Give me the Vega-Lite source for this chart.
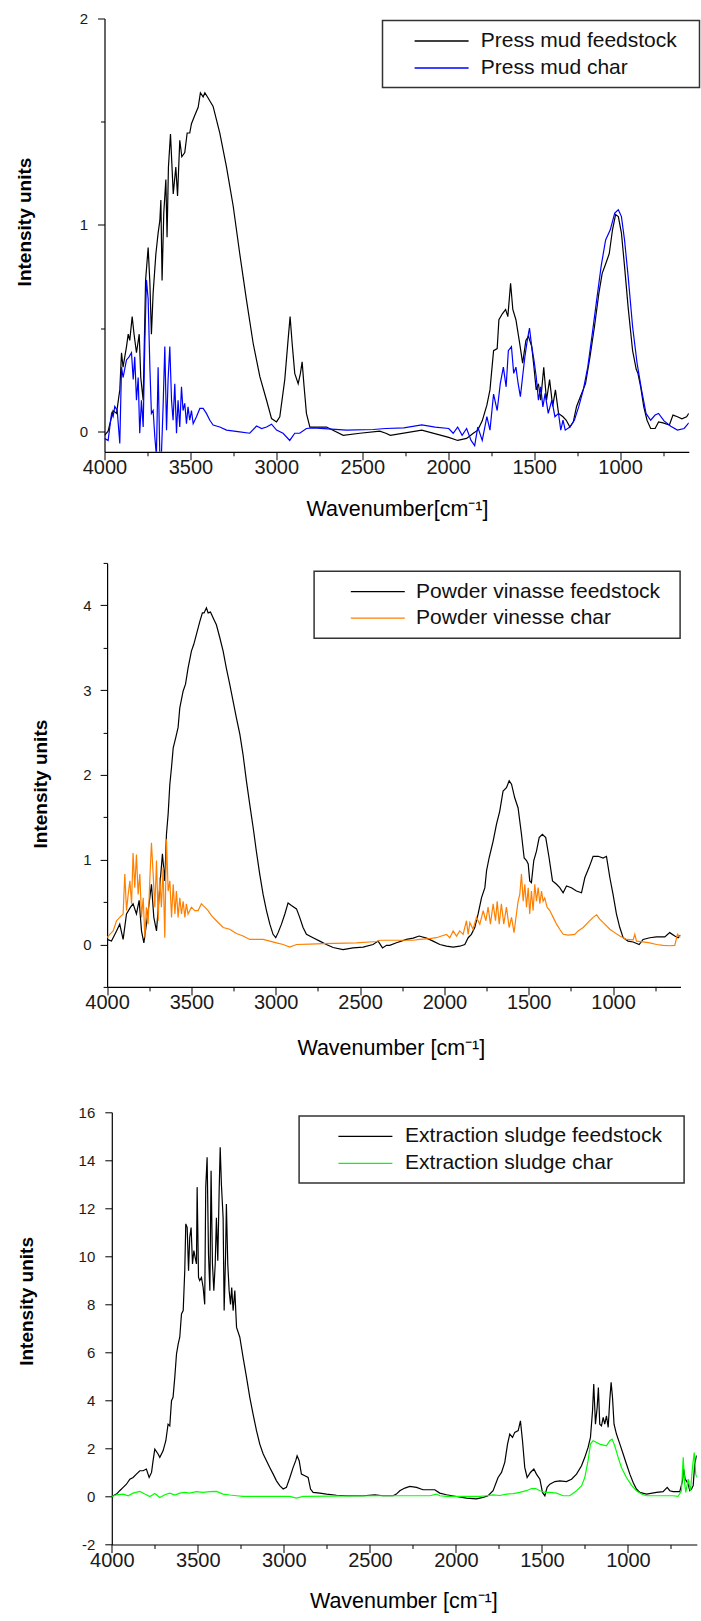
{
"$schema": "https://vega.github.io/schema/vega-lite/v6.json",
"background": "white",
"padding": {"left": 15.5, "top": 11.5, "right": 0, "bottom": 0},
"autosize": {"type": "pad"},
"columns": 1,
"spacing": 110.4,
"bounds": "flush",
"align": "none",
"resolve": {"scale": {"color": "independent", "x": "independent", "y": "independent"}, "legend": {"color": "independent"}},
"config": {
  "view": {"stroke": null},
  "font": "Liberation Sans",
  "axis": {"grid": false, "domainColor": "#000000", "domainWidth": 1.2, "tickColor": "#000000", "tickWidth": 1, "labelColor": "#1a1a1a", "titleColor": "#000000", "labelFont": "Liberation Sans", "titleFont": "Liberation Sans", "labelOverlap": false, "labelFlush": false},
  "legend": {"strokeWidth": 1.5}
},
"datasets": {
"pmf": [{"w":4000,"v":-0.02},{"w":3979,"v":0.0},{"w":3950,"v":0.1},{"w":3930,"v":0.086},{"w":3911,"v":0.2},{"w":3901,"v":0.38},{"w":3892,"v":0.31},{"w":3872,"v":0.41},{"w":3862,"v":0.47},{"w":3853,"v":0.44},{"w":3839,"v":0.555},{"w":3828,"v":0.47},{"w":3814,"v":0.38},{"w":3798,"v":0.47},{"w":3789,"v":0.26},{"w":3775,"v":0.15},{"w":3761,"v":0.73},{"w":3746,"v":0.89},{"w":3736,"v":0.72},{"w":3727,"v":0.47},{"w":3717,"v":0.67},{"w":3701,"v":0.86},{"w":3688,"v":0.96},{"w":3678,"v":1.02},{"w":3672,"v":1.12},{"w":3665,"v":0.73},{"w":3655,"v":1.06},{"w":3643,"v":1.22},{"w":3636,"v":0.94},{"w":3628,"v":1.28},{"w":3616,"v":1.44},{"w":3600,"v":1.15},{"w":3585,"v":1.28},{"w":3575,"v":1.14},{"w":3562,"v":1.41},{"w":3550,"v":1.33},{"w":3533,"v":1.35},{"w":3519,"v":1.445},{"w":3504,"v":1.445},{"w":3494,"v":1.49},{"w":3475,"v":1.53},{"w":3455,"v":1.57},{"w":3442,"v":1.64},{"w":3426,"v":1.62},{"w":3416,"v":1.64},{"w":3397,"v":1.615},{"w":3368,"v":1.574},{"w":3329,"v":1.445},{"w":3290,"v":1.28},{"w":3251,"v":1.09},{"w":3213,"v":0.86},{"w":3174,"v":0.636},{"w":3135,"v":0.426},{"w":3096,"v":0.264},{"w":3057,"v":0.15},{"w":3028,"v":0.061},{"w":2999,"v":0.045},{"w":2980,"v":0.07},{"w":2951,"v":0.25},{"w":2932,"v":0.44},{"w":2920,"v":0.555},{"w":2908,"v":0.425},{"w":2893,"v":0.28},{"w":2873,"v":0.23},{"w":2860,"v":0.28},{"w":2850,"v":0.336},{"w":2840,"v":0.23},{"w":2825,"v":0.086},{"w":2805,"v":0.02},{"w":2708,"v":0.02},{"w":2611,"v":-0.02},{"w":2514,"v":-0.01},{"w":2398,"v":0.0},{"w":2363,"v":-0.01},{"w":2337,"v":-0.02},{"w":2154,"v":0.005},{"w":1997,"v":-0.03},{"w":1945,"v":-0.045},{"w":1893,"v":-0.035},{"w":1854,"v":-0.01},{"w":1828,"v":0.005},{"w":1802,"v":0.05},{"w":1775,"v":0.126},{"w":1757,"v":0.2},{"w":1736,"v":0.39},{"w":1715,"v":0.4},{"w":1705,"v":0.54},{"w":1684,"v":0.57},{"w":1666,"v":0.59},{"w":1653,"v":0.555},{"w":1637,"v":0.717},{"w":1624,"v":0.59},{"w":1606,"v":0.54},{"w":1585,"v":0.43},{"w":1567,"v":0.33},{"w":1548,"v":0.44},{"w":1533,"v":0.46},{"w":1514,"v":0.41},{"w":1501,"v":0.31},{"w":1488,"v":0.2},{"w":1475,"v":0.23},{"w":1462,"v":0.15},{"w":1444,"v":0.31},{"w":1428,"v":0.15},{"w":1410,"v":0.25},{"w":1392,"v":0.12},{"w":1376,"v":0.2},{"w":1358,"v":0.086},{"w":1332,"v":0.07},{"w":1313,"v":0.053},{"w":1292,"v":0.02},{"w":1272,"v":0.045},{"w":1253,"v":0.12},{"w":1227,"v":0.175},{"w":1201,"v":0.23},{"w":1175,"v":0.36},{"w":1149,"v":0.506},{"w":1123,"v":0.67},{"w":1104,"v":0.765},{"w":1084,"v":0.81},{"w":1063,"v":0.86},{"w":1044,"v":0.976},{"w":1026,"v":1.05},{"w":1010,"v":1.04},{"w":992,"v":0.96},{"w":974,"v":0.8},{"w":953,"v":0.6},{"w":927,"v":0.39},{"w":906,"v":0.3},{"w":896,"v":0.28},{"w":880,"v":0.215},{"w":862,"v":0.118},{"w":843,"v":0.053},{"w":822,"v":0.013},{"w":796,"v":0.013},{"w":776,"v":0.045},{"w":750,"v":0.04},{"w":713,"v":0.03},{"w":692,"v":0.078},{"w":666,"v":0.07},{"w":640,"v":0.06},{"w":613,"v":0.07},{"w":600,"v":0.086}],
"pmc": [{"w":4000,"v":-0.035},{"w":3979,"v":-0.045},{"w":3959,"v":0.086},{"w":3950,"v":0.07},{"w":3940,"v":0.12},{"w":3926,"v":0.1},{"w":3911,"v":-0.06},{"w":3901,"v":0.31},{"w":3892,"v":0.26},{"w":3872,"v":0.345},{"w":3857,"v":0.36},{"w":3843,"v":0.38},{"w":3833,"v":0.25},{"w":3824,"v":0.36},{"w":3814,"v":0.15},{"w":3804,"v":0.26},{"w":3795,"v":-0.01},{"w":3785,"v":0.15},{"w":3775,"v":0.02},{"w":3765,"v":0.44},{"w":3756,"v":0.733},{"w":3746,"v":0.64},{"w":3736,"v":0.31},{"w":3727,"v":0.086},{"w":3717,"v":0.1},{"w":3707,"v":-0.03},{"w":3698,"v":-0.12},{"w":3688,"v":0.31},{"w":3678,"v":-0.12},{"w":3669,"v":-0.12},{"w":3659,"v":0.12},{"w":3649,"v":0.41},{"w":3639,"v":0.005},{"w":3630,"v":0.25},{"w":3620,"v":0.41},{"w":3610,"v":0.15},{"w":3601,"v":0.053},{"w":3591,"v":0.23},{"w":3581,"v":-0.01},{"w":3572,"v":0.15},{"w":3562,"v":0.02},{"w":3552,"v":0.215},{"w":3543,"v":0.1},{"w":3533,"v":0.135},{"w":3523,"v":0.036},{"w":3514,"v":0.118},{"w":3504,"v":0.053},{"w":3494,"v":0.1},{"w":3484,"v":0.036},{"w":3465,"v":0.07},{"w":3445,"v":0.11},{"w":3426,"v":0.11},{"w":3407,"v":0.086},{"w":3387,"v":0.053},{"w":3368,"v":0.03},{"w":3329,"v":0.02},{"w":3290,"v":0.005},{"w":3213,"v":-0.003},{"w":3155,"v":-0.01},{"w":3115,"v":0.025},{"w":3086,"v":0.013},{"w":3057,"v":0.02},{"w":3028,"v":0.034},{"w":2999,"v":0.005},{"w":2961,"v":-0.01},{"w":2922,"v":-0.045},{"w":2893,"v":-0.01},{"w":2864,"v":-0.01},{"w":2825,"v":0.013},{"w":2786,"v":0.016},{"w":2592,"v":0.005},{"w":2437,"v":0.008},{"w":2363,"v":0.013},{"w":2258,"v":0.016},{"w":2154,"v":0.03},{"w":2076,"v":0.02},{"w":1997,"v":0.013},{"w":1971,"v":-0.01},{"w":1945,"v":0.02},{"w":1919,"v":-0.02},{"w":1893,"v":0.013},{"w":1867,"v":-0.045},{"w":1846,"v":-0.07},{"w":1828,"v":0.02},{"w":1802,"v":-0.045},{"w":1775,"v":0.07},{"w":1757,"v":0.005},{"w":1736,"v":0.18},{"w":1715,"v":0.1},{"w":1697,"v":0.23},{"w":1679,"v":0.31},{"w":1663,"v":0.215},{"w":1650,"v":0.39},{"w":1632,"v":0.41},{"w":1619,"v":0.28},{"w":1606,"v":0.31},{"w":1593,"v":0.23},{"w":1580,"v":0.167},{"w":1567,"v":0.265},{"w":1554,"v":0.36},{"w":1540,"v":0.44},{"w":1527,"v":0.5},{"w":1514,"v":0.41},{"w":1501,"v":0.345},{"w":1488,"v":0.265},{"w":1475,"v":0.15},{"w":1462,"v":0.215},{"w":1449,"v":0.118},{"w":1436,"v":0.183},{"w":1418,"v":0.086},{"w":1397,"v":0.15},{"w":1379,"v":0.07},{"w":1358,"v":0.086},{"w":1345,"v":0.005},{"w":1332,"v":0.053},{"w":1319,"v":0.005},{"w":1292,"v":0.02},{"w":1266,"v":0.053},{"w":1240,"v":0.12},{"w":1214,"v":0.2},{"w":1188,"v":0.31},{"w":1162,"v":0.47},{"w":1136,"v":0.636},{"w":1110,"v":0.8},{"w":1084,"v":0.927},{"w":1057,"v":0.976},{"w":1031,"v":1.057},{"w":1010,"v":1.073},{"w":992,"v":1.04},{"w":974,"v":0.927},{"w":953,"v":0.75},{"w":927,"v":0.506},{"w":901,"v":0.33},{"w":875,"v":0.2},{"w":849,"v":0.086},{"w":822,"v":0.053},{"w":796,"v":0.078},{"w":776,"v":0.086},{"w":744,"v":0.05},{"w":705,"v":0.024},{"w":666,"v":0.005},{"w":627,"v":0.013},{"w":600,"v":0.04}],
"pvf": [{"w":4000,"v":0.06},{"w":3974,"v":0.04},{"w":3944,"v":0.16},{"w":3925,"v":0.24},{"w":3905,"v":0.06},{"w":3885,"v":0.36},{"w":3861,"v":0.44},{"w":3846,"v":0.48},{"w":3826,"v":0.36},{"w":3810,"v":0.52},{"w":3796,"v":0.16},{"w":3782,"v":0.02},{"w":3767,"v":0.24},{"w":3751,"v":0.48},{"w":3737,"v":0.71},{"w":3723,"v":0.32},{"w":3707,"v":0.16},{"w":3688,"v":0.67},{"w":3672,"v":1.07},{"w":3658,"v":0.75},{"w":3648,"v":1.3},{"w":3638,"v":1.54},{"w":3628,"v":1.89},{"w":3618,"v":2.09},{"w":3608,"v":2.32},{"w":3593,"v":2.44},{"w":3579,"v":2.56},{"w":3569,"v":2.79},{"w":3549,"v":2.99},{"w":3535,"v":3.07},{"w":3520,"v":3.26},{"w":3500,"v":3.46},{"w":3486,"v":3.54},{"w":3470,"v":3.66},{"w":3450,"v":3.81},{"w":3435,"v":3.91},{"w":3425,"v":3.91},{"w":3411,"v":3.97},{"w":3401,"v":3.91},{"w":3387,"v":3.92},{"w":3371,"v":3.85},{"w":3352,"v":3.77},{"w":3332,"v":3.62},{"w":3312,"v":3.46},{"w":3293,"v":3.26},{"w":3273,"v":3.07},{"w":3233,"v":2.67},{"w":3213,"v":2.48},{"w":3194,"v":2.24},{"w":3174,"v":1.93},{"w":3154,"v":1.65},{"w":3134,"v":1.38},{"w":3115,"v":1.1},{"w":3095,"v":0.83},{"w":3075,"v":0.59},{"w":3055,"v":0.4},{"w":3035,"v":0.24},{"w":3016,"v":0.12},{"w":3000,"v":0.08},{"w":2986,"v":0.14},{"w":2966,"v":0.24},{"w":2946,"v":0.36},{"w":2927,"v":0.49},{"w":2907,"v":0.46},{"w":2877,"v":0.42},{"w":2858,"v":0.32},{"w":2838,"v":0.2},{"w":2818,"v":0.12},{"w":2779,"v":0.08},{"w":2739,"v":0.04},{"w":2700,"v":0.0},{"w":2660,"v":-0.035},{"w":2601,"v":-0.06},{"w":2542,"v":-0.04},{"w":2482,"v":-0.03},{"w":2423,"v":0.0},{"w":2393,"v":0.04},{"w":2367,"v":-0.04},{"w":2343,"v":-0.01},{"w":2324,"v":-0.01},{"w":2284,"v":0.02},{"w":2225,"v":0.06},{"w":2185,"v":0.075},{"w":2150,"v":0.1},{"w":2106,"v":0.075},{"w":2067,"v":0.04},{"w":2027,"v":0.0},{"w":1988,"v":-0.02},{"w":1948,"v":-0.03},{"w":1909,"v":-0.02},{"w":1879,"v":0.0},{"w":1859,"v":0.08},{"w":1840,"v":0.12},{"w":1820,"v":0.2},{"w":1800,"v":0.36},{"w":1780,"v":0.55},{"w":1760,"v":0.67},{"w":1750,"v":0.87},{"w":1735,"v":1.02},{"w":1711,"v":1.22},{"w":1691,"v":1.42},{"w":1672,"v":1.57},{"w":1652,"v":1.81},{"w":1632,"v":1.85},{"w":1616,"v":1.93},{"w":1602,"v":1.89},{"w":1583,"v":1.73},{"w":1563,"v":1.61},{"w":1543,"v":1.3},{"w":1527,"v":1.02},{"w":1513,"v":0.99},{"w":1503,"v":0.95},{"w":1494,"v":0.75},{"w":1484,"v":0.73},{"w":1470,"v":0.99},{"w":1454,"v":1.1},{"w":1438,"v":1.26},{"w":1419,"v":1.3},{"w":1399,"v":1.26},{"w":1379,"v":1.02},{"w":1359,"v":0.75},{"w":1335,"v":0.71},{"w":1316,"v":0.67},{"w":1296,"v":0.61},{"w":1276,"v":0.69},{"w":1247,"v":0.67},{"w":1217,"v":0.63},{"w":1187,"v":0.61},{"w":1167,"v":0.79},{"w":1142,"v":0.91},{"w":1118,"v":1.04},{"w":1088,"v":1.04},{"w":1059,"v":1.02},{"w":1039,"v":1.04},{"w":1019,"v":0.79},{"w":1000,"v":0.59},{"w":980,"v":0.36},{"w":960,"v":0.2},{"w":940,"v":0.08},{"w":911,"v":0.04},{"w":881,"v":0.03},{"w":845,"v":0.0},{"w":822,"v":0.06},{"w":782,"v":0.08},{"w":742,"v":0.09},{"w":693,"v":0.09},{"w":664,"v":0.14},{"w":634,"v":0.1},{"w":614,"v":0.08},{"w":600,"v":0.11}],
"pvc": [{"w":4000,"v":0.08},{"w":3984,"v":0.12},{"w":3964,"v":0.16},{"w":3944,"v":0.28},{"w":3925,"v":0.32},{"w":3905,"v":0.36},{"w":3895,"v":0.83},{"w":3885,"v":0.4},{"w":3875,"v":0.59},{"w":3865,"v":0.75},{"w":3855,"v":0.48},{"w":3846,"v":1.08},{"w":3836,"v":0.67},{"w":3826,"v":1.06},{"w":3816,"v":0.59},{"w":3806,"v":0.83},{"w":3796,"v":0.32},{"w":3786,"v":0.55},{"w":3776,"v":0.08},{"w":3767,"v":0.44},{"w":3757,"v":0.24},{"w":3747,"v":0.75},{"w":3737,"v":1.2},{"w":3727,"v":0.83},{"w":3717,"v":0.44},{"w":3707,"v":0.99},{"w":3697,"v":0.28},{"w":3688,"v":0.79},{"w":3678,"v":0.44},{"w":3668,"v":0.91},{"w":3658,"v":0.08},{"w":3648,"v":1.24},{"w":3638,"v":0.63},{"w":3628,"v":0.75},{"w":3618,"v":0.32},{"w":3608,"v":0.71},{"w":3598,"v":0.36},{"w":3589,"v":0.63},{"w":3579,"v":0.32},{"w":3569,"v":0.55},{"w":3559,"v":0.36},{"w":3549,"v":0.51},{"w":3539,"v":0.32},{"w":3530,"v":0.48},{"w":3520,"v":0.36},{"w":3500,"v":0.44},{"w":3480,"v":0.4},{"w":3460,"v":0.4},{"w":3441,"v":0.48},{"w":3421,"v":0.44},{"w":3401,"v":0.4},{"w":3381,"v":0.34},{"w":3352,"v":0.28},{"w":3312,"v":0.2},{"w":3273,"v":0.18},{"w":3233,"v":0.13},{"w":3194,"v":0.1},{"w":3154,"v":0.06},{"w":3075,"v":0.06},{"w":3035,"v":0.04},{"w":2996,"v":0.02},{"w":2956,"v":0.0},{"w":2917,"v":-0.03},{"w":2877,"v":0.0},{"w":2798,"v":0.005},{"w":2719,"v":0.01},{"w":2522,"v":0.02},{"w":2402,"v":0.035},{"w":2383,"v":0.05},{"w":2185,"v":0.05},{"w":2146,"v":0.06},{"w":2087,"v":0.07},{"w":2047,"v":0.08},{"w":2017,"v":0.1},{"w":1988,"v":0.12},{"w":1968,"v":0.08},{"w":1948,"v":0.16},{"w":1928,"v":0.1},{"w":1909,"v":0.16},{"w":1889,"v":0.12},{"w":1869,"v":0.28},{"w":1859,"v":0.12},{"w":1849,"v":0.26},{"w":1830,"v":0.18},{"w":1810,"v":0.32},{"w":1790,"v":0.24},{"w":1770,"v":0.4},{"w":1754,"v":0.28},{"w":1741,"v":0.44},{"w":1727,"v":0.24},{"w":1711,"v":0.48},{"w":1697,"v":0.28},{"w":1687,"v":0.51},{"w":1675,"v":0.24},{"w":1662,"v":0.48},{"w":1648,"v":0.24},{"w":1632,"v":0.44},{"w":1616,"v":0.2},{"w":1602,"v":0.32},{"w":1587,"v":0.14},{"w":1573,"v":0.36},{"w":1563,"v":0.51},{"w":1553,"v":0.59},{"w":1543,"v":0.83},{"w":1533,"v":0.51},{"w":1523,"v":0.71},{"w":1513,"v":0.44},{"w":1503,"v":0.67},{"w":1494,"v":0.36},{"w":1484,"v":0.63},{"w":1474,"v":0.4},{"w":1464,"v":0.71},{"w":1454,"v":0.51},{"w":1444,"v":0.67},{"w":1434,"v":0.48},{"w":1424,"v":0.63},{"w":1415,"v":0.51},{"w":1405,"v":0.55},{"w":1391,"v":0.44},{"w":1375,"v":0.4},{"w":1355,"v":0.32},{"w":1335,"v":0.24},{"w":1316,"v":0.18},{"w":1296,"v":0.12},{"w":1266,"v":0.11},{"w":1227,"v":0.12},{"w":1207,"v":0.16},{"w":1177,"v":0.2},{"w":1148,"v":0.26},{"w":1118,"v":0.32},{"w":1098,"v":0.35},{"w":1079,"v":0.3},{"w":1049,"v":0.24},{"w":1019,"v":0.18},{"w":990,"v":0.14},{"w":960,"v":0.1},{"w":920,"v":0.06},{"w":881,"v":0.055},{"w":871,"v":0.12},{"w":861,"v":0.04},{"w":822,"v":0.03},{"w":782,"v":0.02},{"w":742,"v":0.0},{"w":703,"v":-0.01},{"w":664,"v":-0.015},{"w":634,"v":-0.01},{"w":618,"v":0.12},{"w":600,"v":0.08}],
"esf": [{"w":4000,"v":0.0},{"w":3973,"v":0.1},{"w":3954,"v":0.24},{"w":3934,"v":0.38},{"w":3915,"v":0.51},{"w":3895,"v":0.72},{"w":3876,"v":0.79},{"w":3857,"v":0.93},{"w":3837,"v":1.07},{"w":3818,"v":1.07},{"w":3799,"v":1.14},{"w":3783,"v":0.79},{"w":3769,"v":1.0},{"w":3760,"v":1.49},{"w":3750,"v":1.97},{"w":3731,"v":1.77},{"w":3721,"v":1.63},{"w":3702,"v":1.9},{"w":3686,"v":2.32},{"w":3673,"v":3.01},{"w":3663,"v":2.94},{"w":3653,"v":3.99},{"w":3644,"v":4.13},{"w":3634,"v":4.96},{"w":3624,"v":5.93},{"w":3614,"v":6.35},{"w":3605,"v":6.63},{"w":3595,"v":7.6},{"w":3585,"v":7.74},{"w":3576,"v":9.4},{"w":3570,"v":11.35},{"w":3562,"v":11.2},{"w":3554,"v":9.4},{"w":3547,"v":10.8},{"w":3539,"v":11.2},{"w":3531,"v":9.68},{"w":3523,"v":10.24},{"w":3516,"v":9.96},{"w":3508,"v":9.68},{"w":3504,"v":12.88},{"w":3496,"v":9.12},{"w":3489,"v":8.99},{"w":3479,"v":9.12},{"w":3469,"v":8.7},{"w":3460,"v":8.0},{"w":3454,"v":12.88},{"w":3446,"v":14.12},{"w":3438,"v":10.1},{"w":3430,"v":8.57},{"w":3423,"v":13.56},{"w":3415,"v":9.68},{"w":3407,"v":8.57},{"w":3399,"v":9.68},{"w":3392,"v":11.6},{"w":3384,"v":9.82},{"w":3376,"v":12.74},{"w":3370,"v":14.54},{"w":3363,"v":13.0},{"w":3353,"v":11.6},{"w":3347,"v":7.74},{"w":3339,"v":9.96},{"w":3334,"v":12.18},{"w":3326,"v":9.68},{"w":3318,"v":8.57},{"w":3310,"v":8.0},{"w":3303,"v":8.7},{"w":3295,"v":7.74},{"w":3285,"v":8.57},{"w":3275,"v":7.04},{"w":3256,"v":6.63},{"w":3237,"v":5.79},{"w":3217,"v":4.96},{"w":3198,"v":4.13},{"w":3179,"v":3.43},{"w":3159,"v":2.74},{"w":3140,"v":2.18},{"w":3120,"v":1.77},{"w":3101,"v":1.49},{"w":3082,"v":1.21},{"w":3062,"v":0.93},{"w":3043,"v":0.65},{"w":3024,"v":0.45},{"w":3004,"v":0.31},{"w":2985,"v":0.38},{"w":2965,"v":0.79},{"w":2946,"v":1.21},{"w":2931,"v":1.49},{"w":2923,"v":1.69},{"w":2911,"v":1.49},{"w":2898,"v":0.93},{"w":2878,"v":0.86},{"w":2859,"v":0.79},{"w":2845,"v":0.31},{"w":2830,"v":0.17},{"w":2791,"v":0.14},{"w":2752,"v":0.1},{"w":2694,"v":0.05},{"w":2636,"v":0.03},{"w":2539,"v":0.03},{"w":2471,"v":0.07},{"w":2423,"v":0.03},{"w":2365,"v":0.03},{"w":2346,"v":0.1},{"w":2326,"v":0.24},{"w":2297,"v":0.35},{"w":2268,"v":0.42},{"w":2229,"v":0.38},{"w":2191,"v":0.28},{"w":2123,"v":0.28},{"w":2094,"v":0.14},{"w":2055,"v":0.07},{"w":1997,"v":0.0},{"w":1939,"v":-0.07},{"w":1881,"v":-0.1},{"w":1842,"v":-0.04},{"w":1813,"v":0.03},{"w":1784,"v":0.24},{"w":1755,"v":0.79},{"w":1735,"v":1.0},{"w":1716,"v":1.42},{"w":1700,"v":2.18},{"w":1687,"v":2.6},{"w":1671,"v":2.46},{"w":1658,"v":2.67},{"w":1638,"v":2.74},{"w":1625,"v":3.15},{"w":1613,"v":2.32},{"w":1600,"v":1.21},{"w":1586,"v":0.79},{"w":1567,"v":1.0},{"w":1547,"v":1.14},{"w":1532,"v":0.93},{"w":1512,"v":0.72},{"w":1497,"v":0.17},{"w":1483,"v":0.03},{"w":1470,"v":0.38},{"w":1454,"v":0.51},{"w":1425,"v":0.62},{"w":1396,"v":0.65},{"w":1358,"v":0.62},{"w":1328,"v":0.72},{"w":1299,"v":0.93},{"w":1270,"v":1.28},{"w":1251,"v":1.63},{"w":1232,"v":2.04},{"w":1218,"v":2.46},{"w":1206,"v":3.57},{"w":1199,"v":4.68},{"w":1189,"v":3.01},{"w":1179,"v":3.71},{"w":1172,"v":4.54},{"w":1164,"v":3.01},{"w":1154,"v":2.94},{"w":1144,"v":3.29},{"w":1135,"v":3.01},{"w":1125,"v":3.36},{"w":1115,"v":2.88},{"w":1106,"v":3.99},{"w":1098,"v":4.75},{"w":1090,"v":4.13},{"w":1081,"v":3.01},{"w":1067,"v":2.6},{"w":1047,"v":2.18},{"w":1028,"v":1.77},{"w":1009,"v":1.35},{"w":989,"v":0.93},{"w":970,"v":0.58},{"w":951,"v":0.31},{"w":931,"v":0.17},{"w":892,"v":0.1},{"w":834,"v":0.17},{"w":796,"v":0.2},{"w":772,"v":0.38},{"w":757,"v":0.24},{"w":738,"v":0.2},{"w":699,"v":0.2},{"w":683,"v":0.65},{"w":676,"v":1.14},{"w":668,"v":0.72},{"w":660,"v":0.65},{"w":650,"v":0.51},{"w":641,"v":0.24},{"w":631,"v":0.31},{"w":621,"v":0.45},{"w":612,"v":1.35},{"w":602,"v":1.69},{"w":600,"v":1.7}],
"esc": [{"w":4000,"v":0.0},{"w":3973,"v":0.07},{"w":3934,"v":0.1},{"w":3905,"v":0.03},{"w":3876,"v":0.14},{"w":3837,"v":0.21},{"w":3808,"v":0.1},{"w":3779,"v":0.0},{"w":3750,"v":0.12},{"w":3721,"v":-0.04},{"w":3692,"v":0.07},{"w":3663,"v":0.14},{"w":3634,"v":0.06},{"w":3605,"v":0.14},{"w":3576,"v":0.17},{"w":3547,"v":0.14},{"w":3508,"v":0.2},{"w":3469,"v":0.17},{"w":3430,"v":0.2},{"w":3392,"v":0.21},{"w":3353,"v":0.1},{"w":3314,"v":0.06},{"w":3275,"v":0.03},{"w":3237,"v":0.0},{"w":2965,"v":0.0},{"w":2927,"v":-0.07},{"w":2888,"v":0.0},{"w":2442,"v":0.03},{"w":2152,"v":0.03},{"w":2113,"v":0.1},{"w":2094,"v":0.03},{"w":2055,"v":0.0},{"w":1861,"v":0.0},{"w":1822,"v":0.03},{"w":1784,"v":0.07},{"w":1745,"v":0.04},{"w":1706,"v":0.1},{"w":1667,"v":0.12},{"w":1629,"v":0.17},{"w":1590,"v":0.24},{"w":1561,"v":0.33},{"w":1536,"v":0.33},{"w":1512,"v":0.24},{"w":1483,"v":0.17},{"w":1454,"v":0.17},{"w":1416,"v":0.14},{"w":1377,"v":0.03},{"w":1338,"v":0.03},{"w":1299,"v":0.24},{"w":1270,"v":0.44},{"w":1251,"v":0.79},{"w":1232,"v":1.49},{"w":1218,"v":2.18},{"w":1203,"v":2.32},{"w":1164,"v":2.18},{"w":1125,"v":2.11},{"w":1106,"v":2.32},{"w":1092,"v":2.39},{"w":1077,"v":2.11},{"w":1057,"v":1.63},{"w":1038,"v":1.21},{"w":1009,"v":0.79},{"w":980,"v":0.47},{"w":951,"v":0.24},{"w":922,"v":0.1},{"w":892,"v":0.03},{"w":738,"v":0.03},{"w":709,"v":0.0},{"w":689,"v":0.24},{"w":679,"v":1.63},{"w":670,"v":0.51},{"w":664,"v":0.17},{"w":650,"v":0.72},{"w":637,"v":0.24},{"w":625,"v":1.21},{"w":615,"v":1.83},{"w":606,"v":0.93},{"w":600,"v":0.8}]
},
"concat": [
{
 "width": 584.3, "height": 433.3,
 "layer": [
  {"data": {"name": "pmf"}, "mark": {"type": "line", "strokeWidth": 1.2, "clip": true},
   "encoding": {
    "x": {"field": "w", "type": "quantitative", "scale": {"domain": [4000, 600], "nice": false, "zero": false},
      "axis": {"values": [4000,3750,3500,3250,3000,2750,2500,2250,2000,1750,1500,1250,1000,750], "format": "d", "labelExpr": "datum.value % 500 == 0 ? datum.label : ''", "tickSize": {"condition": {"test": "datum.value % 500 != 0", "value": 4}, "value": 8}, "labelFontSize": 20, "labelPadding": -2, "title": "Wavenumber[cm⁻¹]", "titleFontSize": 21.5, "titleFontWeight": "normal", "titleX": 292.5, "titleY": 57.7, "titleBaseline": "middle", "titleAlign": "center", "titleAngle": 0}},
    "y": {"field": "v", "type": "quantitative", "scale": {"domain": [-0.1, 2], "nice": false, "zero": false},
      "axis": {"values": [0,0.5,1,1.5,2], "labelExpr": "datum.value % 1 == 0 ? '' + datum.value : ''", "tickSize": {"condition": {"test": "datum.value % 1 != 0", "value": 4}, "value": 7}, "labelFontSize": 15, "labelPadding": 10, "title": "Intensity units", "titleFontSize": 19, "titleFontWeight": "bold", "titleX": -79.7, "titleY": 203, "titleBaseline": "middle", "titleAlign": "center", "titleAngle": 270}},
    "color": {"datum": "Press mud feedstock", "type": "nominal", "scale": {"domain": ["Press mud feedstock", "Press mud char"], "range": ["#000000", "#0000ff"]},
      "legend": {"orient": "none", "legendX": 278, "legendY": 2, "title": ".", "titleOrient": "right", "titleFontSize": 2, "titleColor": "#ffffff", "titlePadding": 11.5, "symbolType": "M-2.7,0H2.7", "symbolSize": 400, "symbolStrokeWidth": 1.3, "symbolOffset": 38.6, "labelOffset": 28.1, "labelFont": "Liberation Sans", "labelFontSize": 21, "labelColor": "#111111", "labelLimit": 500, "padding": 9.5, "rowPadding": 6, "strokeColor": "#333333"}}
   }},
  {"data": {"name": "pmc"}, "mark": {"type": "line", "strokeWidth": 1.2, "clip": true},
   "encoding": {
    "x": {"field": "w", "type": "quantitative"},
    "y": {"field": "v", "type": "quantitative"},
    "color": {"datum": "Press mud char", "type": "nominal",
      "legend": {"orient": "none", "legendX": 278, "legendY": 2, "title": ".", "titleOrient": "right", "titleFontSize": 2, "titleColor": "#ffffff", "titlePadding": 11.5, "symbolType": "M-2.7,0H2.7", "symbolSize": 400, "symbolStrokeWidth": 1.3, "symbolOffset": 38.6, "labelOffset": 28.1, "labelFont": "Liberation Sans", "labelFontSize": 21, "labelColor": "#111111", "labelLimit": 500, "padding": 9.5, "rowPadding": 6, "strokeColor": "#333333"}}
   }}
 ]
},
{
 "width": 576, "height": 424,
 "layer": [
  {"data": {"name": "pvf"}, "mark": {"type": "line", "strokeWidth": 1.2, "clip": true},
   "encoding": {
    "x": {"field": "w", "type": "quantitative", "scale": {"domain": [4000, 600], "range": [2.6, 576], "nice": false, "zero": false},
      "axis": {"values": [4000,3750,3500,3250,3000,2750,2500,2250,2000,1750,1500,1250,1000,750], "format": "d", "labelExpr": "datum.value % 500 == 0 ? datum.label : ''", "tickSize": {"condition": {"test": "datum.value % 500 != 0", "value": 4}, "value": 8}, "labelFontSize": 20, "labelPadding": -2, "title": "Wavenumber [cm⁻¹]", "titleFontSize": 21.5, "titleFontWeight": "normal", "titleX": 286.3, "titleY": 61.9, "titleBaseline": "middle", "titleAlign": "center", "titleAngle": 0}},
    "y": {"field": "v", "type": "quantitative", "scale": {"domain": [-0.5, 4.5], "nice": false, "zero": false},
      "axis": {"offset": -2.6, "values": [-0.5,0,0.5,1,1.5,2,2.5,3,3.5,4,4.5], "labelExpr": "datum.value % 1 == 0 ? '' + datum.value : ''", "tickSize": {"condition": {"test": "datum.value % 1 != 0", "value": 4}, "value": 7}, "labelFontSize": 15, "labelPadding": 9, "title": "Intensity units", "titleFontSize": 19, "titleFontWeight": "bold", "titleX": -66.3, "titleY": 220.7, "titleBaseline": "middle", "titleAlign": "center", "titleAngle": 270}},
    "color": {"datum": "Powder vinasse feedstock", "type": "nominal", "scale": {"domain": ["Powder vinasse feedstock", "Powder vinesse char"], "range": ["#000000", "#ff8000"]},
      "legend": {"orient": "none", "legendX": 209.6, "legendY": 8.3, "title": ".", "titleOrient": "right", "titleFontSize": 2, "titleColor": "#ffffff", "titlePadding": 9.5, "symbolType": "M-2.7,0H2.7", "symbolSize": 400, "symbolStrokeWidth": 1.3, "symbolOffset": 43.2, "labelOffset": 27.3, "labelFont": "Liberation Sans", "labelFontSize": 21, "labelColor": "#111111", "labelLimit": 500, "padding": 9.5, "rowPadding": 5.4, "strokeColor": "#333333"}}
   }},
  {"data": {"name": "pvc"}, "mark": {"type": "line", "strokeWidth": 1.2, "clip": true},
   "encoding": {
    "x": {"field": "w", "type": "quantitative"},
    "y": {"field": "v", "type": "quantitative"},
    "color": {"datum": "Powder vinesse char", "type": "nominal",
      "legend": {"orient": "none", "legendX": 209.6, "legendY": 8.3, "title": ".", "titleOrient": "right", "titleFontSize": 2, "titleColor": "#ffffff", "titlePadding": 9.5, "symbolType": "M-2.7,0H2.7", "symbolSize": 400, "symbolStrokeWidth": 1.3, "symbolOffset": 43.2, "labelOffset": 27.3, "labelFont": "Liberation Sans", "labelFontSize": 21, "labelColor": "#111111", "labelLimit": 500, "padding": 9.5, "rowPadding": 5.4, "strokeColor": "#333333"}}
   }}
 ]
},
{
 "width": 592.3, "height": 447.2,
 "layer": [
  {"data": {"name": "esf"}, "mark": {"type": "line", "strokeWidth": 1.2, "clip": true},
   "encoding": {
    "x": {"field": "w", "type": "quantitative", "scale": {"domain": [4000, 600], "range": [7.3, 592.3], "nice": false, "zero": false},
      "axis": {"values": [4000,3750,3500,3250,3000,2750,2500,2250,2000,1750,1500,1250,1000,750], "format": "d", "labelExpr": "datum.value % 500 == 0 ? datum.label : ''", "tickSize": {"condition": {"test": "datum.value % 500 != 0", "value": 4}, "value": 8}, "labelFontSize": 20, "labelPadding": -2, "title": "Wavenumber [cm⁻¹]", "titleFontSize": 21.5, "titleFontWeight": "normal", "titleX": 298.8, "titleY": 57.4, "titleBaseline": "middle", "titleAlign": "center", "titleAngle": 0}},
    "y": {"field": "v", "type": "quantitative", "scale": {"domain": [-2, 16], "range": [447.2, 14.9], "nice": false, "zero": false},
      "axis": {"offset": -7.3, "values": [-2,-1,0,1,2,3,4,5,6,7,8,9,10,11,12,13,14,15,16], "labelExpr": "datum.value % 2 == 0 ? '' + datum.value : ''", "tickSize": {"condition": {"test": "datum.value % 2 != 0", "value": 4}, "value": 7}, "labelFontSize": 15, "labelPadding": 10, "title": "Intensity units", "titleFontSize": 19, "titleFontWeight": "bold", "titleX": -85, "titleY": 203.6, "titleBaseline": "middle", "titleAlign": "center", "titleAngle": 270}},
    "color": {"datum": "Extraction sludge feedstock", "type": "nominal", "scale": {"domain": ["Extraction sludge feedstock", "Extraction sludge char"], "range": ["#000000", "#00ff00"]},
      "legend": {"orient": "none", "legendX": 194.6, "legendY": 18.6, "title": ".", "titleOrient": "right", "titleFontSize": 2, "titleColor": "#ffffff", "titlePadding": 11.8, "symbolType": "M-2.7,0H2.7", "symbolSize": 400, "symbolStrokeWidth": 1.3, "symbolOffset": 45.8, "labelOffset": 28.7, "labelFont": "Liberation Sans", "labelFontSize": 21, "labelColor": "#111111", "labelLimit": 500, "padding": 9.5, "rowPadding": 6, "strokeColor": "#333333"}}
   }},
  {"data": {"name": "esc"}, "mark": {"type": "line", "strokeWidth": 1.2, "clip": true},
   "encoding": {
    "x": {"field": "w", "type": "quantitative"},
    "y": {"field": "v", "type": "quantitative"},
    "color": {"datum": "Extraction sludge char", "type": "nominal",
      "legend": {"orient": "none", "legendX": 194.6, "legendY": 18.6, "title": ".", "titleOrient": "right", "titleFontSize": 2, "titleColor": "#ffffff", "titlePadding": 11.8, "symbolType": "M-2.7,0H2.7", "symbolSize": 400, "symbolStrokeWidth": 1.3, "symbolOffset": 45.8, "labelOffset": 28.7, "labelFont": "Liberation Sans", "labelFontSize": 21, "labelColor": "#111111", "labelLimit": 500, "padding": 9.5, "rowPadding": 6, "strokeColor": "#333333"}}
   }}
 ]
}
]
}
